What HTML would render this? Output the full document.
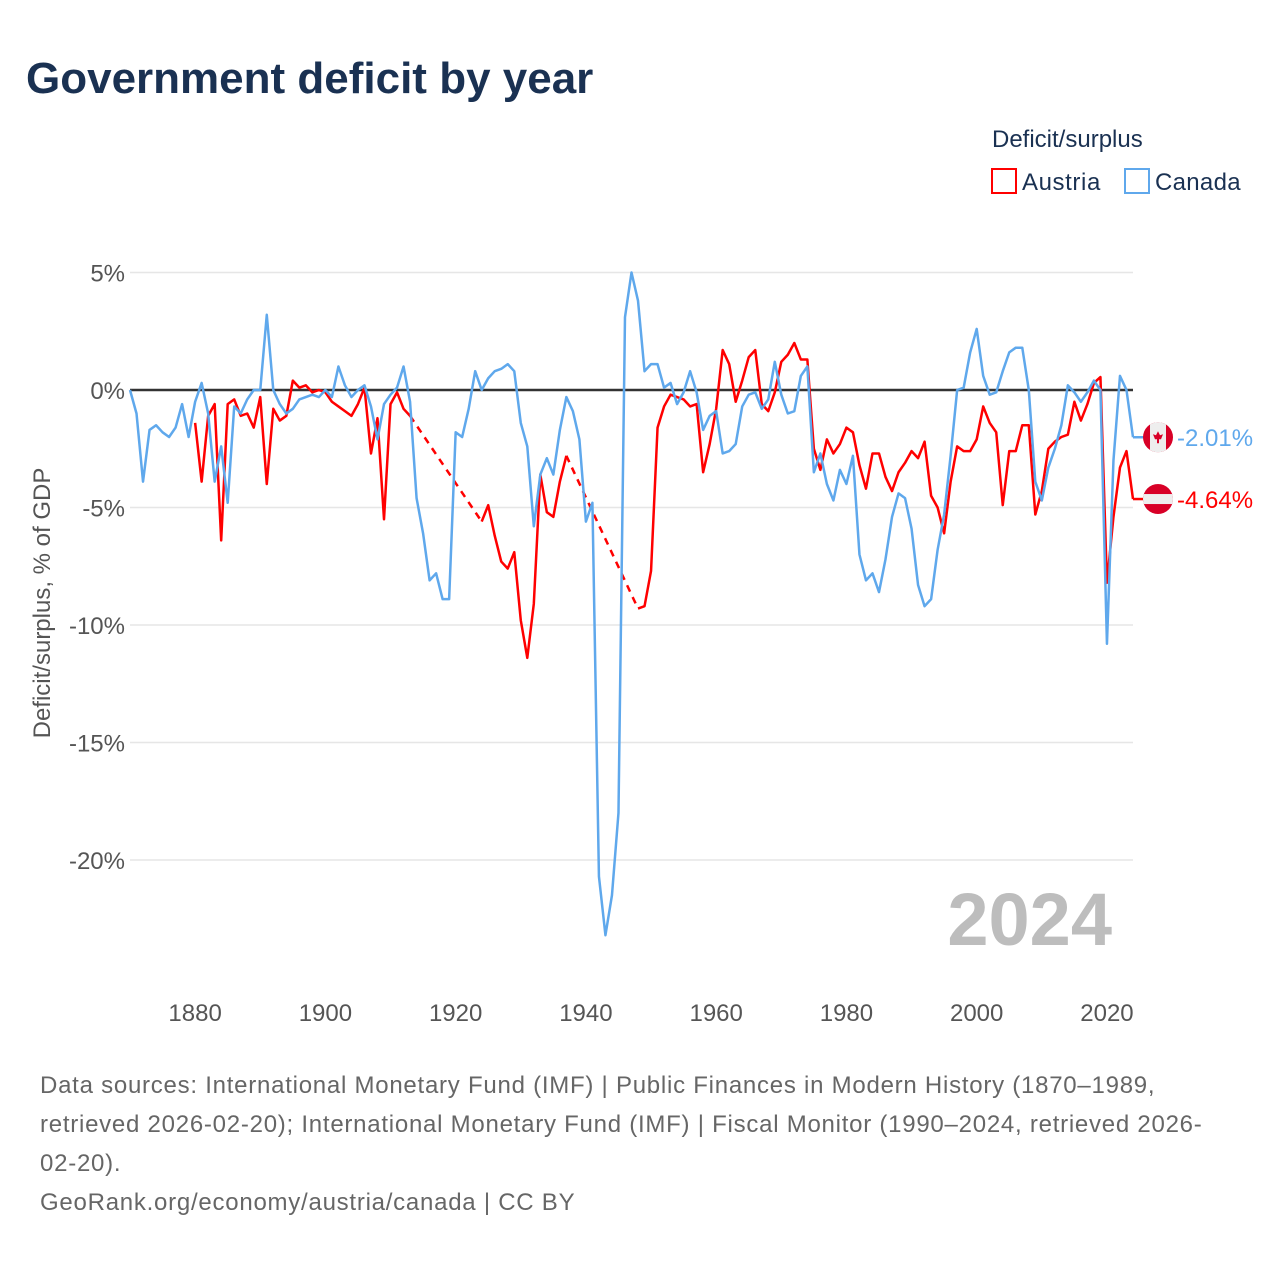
<!DOCTYPE html>
<html><head><meta charset="utf-8">
<style>
body{margin:0;background:#fff;font-family:"Liberation Sans",sans-serif;}
#wrap{position:relative;width:1280px;height:1280px;overflow:hidden;}
</style></head>
<body>
<div id="wrap">
<svg id="chart" width="1280" height="1280" xmlns="http://www.w3.org/2000/svg">
<text x="26" y="93" font-size="44" font-weight="bold" fill="#1a3152">Government deficit by year</text>
<text x="992" y="147" font-size="24" fill="#1a3152">Deficit/surplus</text>
<g><rect x="992" y="169" width="24" height="24" fill="none" stroke="#f00" stroke-width="2"/><text x="1022" y="190" font-size="24" fill="#1a3152" letter-spacing="0.6">Austria</text></g>
<g><rect x="1125" y="169" width="24" height="24" fill="none" stroke="#5fa8ec" stroke-width="2"/><text x="1155" y="190" font-size="24" fill="#1a3152" letter-spacing="0.3">Canada</text></g>
<g id="grid"></g><g id="yticks"></g><g id="xticks"></g>
<text x="0" y="0" transform="translate(50,603) rotate(-90)" text-anchor="middle" font-size="24" fill="#555">Deficit/surplus, % of GDP</text>
<text x="1112" y="945" text-anchor="end" font-size="74" font-weight="bold" fill="#bdbdbd">2024</text>
<g id="series"></g>
<g id="endlabels"></g>
<g font-size="24" fill="#666" letter-spacing="0.75">
<text x="40" y="1093">Data sources: International Monetary Fund (IMF) | Public Finances in Modern History (1870–1989,</text>
<text x="40" y="1132">retrieved 2026-02-20); International Monetary Fund (IMF) | Fiscal Monitor (1990–2024, retrieved 2026-</text>
<text x="40" y="1171">02-20).</text>
<text x="40" y="1210">GeoRank.org/economy/austria/canada | CC BY</text>
</g>
</svg>
</div>
<script>
const startYear = 1870;
const yTicks = [5, 0, -5, -10, -15, -20];
const xTicks = [1880, 1900, 1920, 1940, 1960, 1980, 2000, 2020];
const canada = [0,-1,-3.9,-1.7,-1.5,-1.8,-2,-1.6,-0.6,-2,-0.5,0.3,-1,-3.9,-2.4,-4.8,-0.7,-1,-0.4,0,0,3.2,0,-0.6,-1,-0.8,-0.4,-0.3,-0.2,-0.3,0,-0.3,1,0.2,-0.3,0,0.2,-0.7,-2.1,-0.6,-0.2,0.1,1,-0.5,-4.6,-6.1,-8.1,-7.8,-8.9,-8.9,-1.8,-2,-0.8,0.8,0,0.5,0.8,0.9,1.1,0.8,-1.4,-2.4,-5.8,-3.6,-2.9,-3.6,-1.7,-0.3,-0.9,-2.1,-5.6,-4.8,-20.7,-23.2,-21.5,-18,3.1,5,3.8,0.8,1.1,1.1,0.1,0.3,-0.6,-0.1,0.8,-0.1,-1.7,-1.1,-0.9,-2.7,-2.6,-2.3,-0.7,-0.2,-0.1,-0.8,-0.4,1.2,-0.2,-1,-0.9,0.6,1,-3.5,-2.7,-4,-4.7,-3.4,-4,-2.8,-7,-8.1,-7.8,-8.6,-7.2,-5.4,-4.4,-4.6,-5.9,-8.3,-9.2,-8.9,-6.8,-5.3,-2.8,0,0.1,1.6,2.6,0.6,-0.2,-0.1,0.8,1.6,1.8,1.8,0,-3.9,-4.7,-3.3,-2.5,-1.5,0.2,-0.1,-0.5,-0.1,0.4,0,-10.8,-3,0.6,0,-2.01];
const austria = [null,null,null,null,null,null,null,null,null,null,-1.4,-3.9,-1.1,-0.6,-6.4,-0.6,-0.4,-1.1,-1,-1.6,-0.3,-4,-0.8,-1.3,-1.1,0.4,0.1,0.2,-0.1,0,-0.1,-0.5,-0.7,-0.9,-1.1,-0.6,0.1,-2.7,-1.2,-5.5,-0.6,-0.1,-0.8,-1.1,null,null,null,null,null,null,null,null,null,null,-5.6,-4.9,-6.2,-7.3,-7.6,-6.9,-9.8,-11.4,-9.1,-3.6,-5.2,-5.4,-3.9,-2.8,null,null,null,null,null,null,null,null,null,null,-9.3,-9.2,-7.7,-1.6,-0.7,-0.2,-0.3,-0.4,-0.7,-0.6,-3.5,-2.3,-0.8,1.7,1.1,-0.5,0.4,1.4,1.7,-0.6,-0.9,-0.1,1.2,1.5,2,1.3,1.3,-2.5,-3.4,-2.1,-2.7,-2.3,-1.6,-1.8,-3.2,-4.2,-2.7,-2.7,-3.7,-4.3,-3.5,-3.1,-2.6,-2.9,-2.2,-4.5,-5,-6.1,-3.9,-2.4,-2.6,-2.6,-2.1,-0.7,-1.4,-1.8,-4.9,-2.6,-2.6,-1.5,-1.5,-5.3,-4.3,-2.5,-2.2,-2,-1.9,-0.5,-1.3,-0.6,0.3,0.55,-8.2,-5.4,-3.3,-2.6,-4.64];
const X0=130, X1=1133;
function xs(yr){return X0+(yr-1870)*(X1-X0)/(2024-1870);}
function ys(v){return 390-v*23.5;}
const NS="http://www.w3.org/2000/svg";
function mk(tag,attrs,parent){const e=document.createElementNS(NS,tag);for(const k in attrs)e.setAttribute(k,attrs[k]);parent.appendChild(e);return e;}
const grid=document.getElementById('grid'), yt=document.getElementById('yticks'), xt=document.getElementById('xticks');
yTicks.forEach(v=>{
  const l=mk('line',{x1:X0,x2:X1,y1:ys(v),y2:ys(v),stroke:v===0?'#333':'#e6e6e6','stroke-width':v===0?2.5:1.5},grid);
  
  
  const t=mk('text',{x:125,y:ys(v)+9,'text-anchor':'end','font-size':24,fill:'#555'},yt);
  t.textContent=v+'%';
  
  
});
xTicks.forEach(yr=>{
  const t=mk('text',{x:xs(yr),y:1021,'text-anchor':'middle','font-size':24,fill:'#555'},xt);
  t.textContent=yr;
  
  
});
const sg=document.getElementById('series');
function draw(arr,color,name){
  let solid='', dashed='', prev=null, gap=false;
  arr.forEach((v,i)=>{
    if(v===null){ if(prev) gap=true; return; }
    const x=xs(startYear+i), y=ys(v);
    if(prev && !gap) solid+=`L${x},${y}`;
    else { if(prev&&gap) dashed+=`M${prev[0]},${prev[1]}L${x},${y}`; solid+=`M${x},${y}`; }
    prev=[x,y]; gap=false;
  });
  const p=mk('path',{d:solid,fill:'none',stroke:color,'stroke-width':2.5,'stroke-linejoin':'round'},sg);
  
  
  if(dashed){const d=mk('path',{d:dashed,fill:'none',stroke:color,'stroke-width':2.5,'stroke-dasharray':'7,6'},sg);
  
  }
}
draw(austria,'#f00','austria');
draw(canada,'#5fa8ec','canada');
const el=document.getElementById('endlabels');
function endLabel(v,color,name,flag){
  const y=ys(v);
  mk('line',{x1:X1,x2:1145,y1:ys(v),y2:ys(v),stroke:color,'stroke-width':2.5},el);
  const g=mk('g',{},el);
  
  
  const cx=1158, r=15;
  const cp=mk('clipPath',{id:'c'+name},g);
  mk('circle',{cx:cx,cy:y,r:r},cp);
  const inner=mk('g',{'clip-path':`url(#c${name})`},g);
  if(flag==='ca'){
    mk('rect',{x:cx-r,y:y-r,width:2*r,height:2*r,fill:'#d80027'},inner);
    mk('rect',{x:cx-8,y:y-r,width:16,height:2*r,fill:'#eee'},inner);
    mk('path',{d:`M${cx},${y-6}L${cx+2},${y-2}L${cx+5},${y-3}L${cx+3},${y+2}L${cx+1},${y+2}L${cx+1},${y+6}L${cx-1},${y+6}L${cx-1},${y+2}L${cx-3},${y+2}L${cx-5},${y-3}L${cx-2},${y-2}Z`,fill:'#d80027'},inner);
  } else {
    mk('rect',{x:cx-r,y:y-r,width:2*r,height:2*r,fill:'#d80027'},inner);
    mk('rect',{x:cx-r,y:y-5,width:2*r,height:10,fill:'#eee'},inner);
  }
  const t=mk('text',{x:1177,y:ys(v)+9,'font-size':24,fill:color},el);
  t.textContent=v.toFixed(2)+'%';
  
  
}
endLabel(canada[canada.length-1],'#5fa8ec','canada','ca');
endLabel(austria[austria.length-1],'#f00','austria','at');
</script>
</body></html>
